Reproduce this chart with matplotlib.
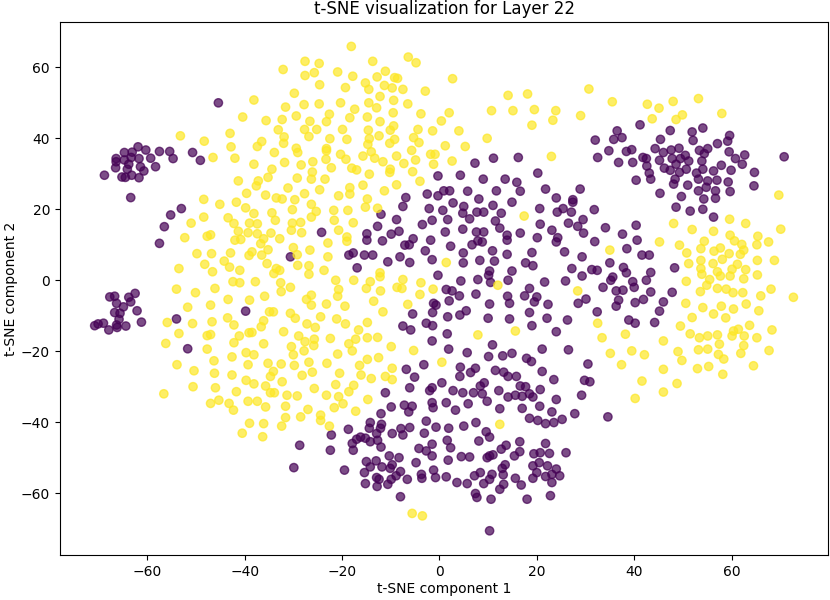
import numpy as np
import matplotlib
matplotlib.use('Agg')
import matplotlib.pyplot as plt

# points, label 0 (purple)
class0_pts = [
    (-45.4, 50.0), (-61.9, 37.6), (-64.7, 36.0), (-63.1, 36.1), (-60.3, 36.7), (-57.5, 36.3),
    (-55.4, 36.3), (-54.7, 34.3), (-50.7, 36.0), (-49.1, 33.8), (-66.4, 34.3), (-66.4, 33.4),
    (-66.5, 31.7), (-64.7, 33.9), (-63.3, 34.6), (-61.7, 34.3), (-59.3, 34.4), (-63.8, 32.7),
    (-61.4, 32.0), (-60.7, 30.8), (-58.3, 32.0), (-64.1, 31.3), (-68.8, 29.6), (-65.2, 29.1),
    (-64.5, 29.0), (-63.2, 29.6), (-61.7, 28.9), (-63.4, 23.3),
    (-0.3, 29.4), (-6.9, 23.3), (-2.5, 24.3), (-0.3, 23.8),
    (32.0, 39.5), (36.5, 42.1), (35.8, 39.7), (37.5, 40.2), (34.8, 36.5), (38.4, 36.3),
    (32.5, 34.6), (36.8, 33.2), (7.3, 33.0), (11.1, 34.4), (16.2, 34.6), (20.2, 30.2),
    (4.3, 29.6), (9.0, 28.5), (13.5, 28.5), (15.9, 27.6), (16.6, 25.1), (11.7, 25.2),
    (5.8, 25.1), (2.1, 25.2), (0.9, 25.2), (21.8, 25.7), (28.9, 25.7), (24.0, 23.2),
    (27.4, 22.7), (8.1, 22.9),
    (41.2, 43.8), (47.4, 42.2), (51.9, 41.8), (54.1, 42.9), (52.1, 39.4), (45.4, 39.7),
    (59.6, 40.8), (59.2, 39.2), (57.1, 38.5), (39.5, 36.8), (44.3, 37.1), (46.0, 36.0),
    (47.6, 36.7), (49.2, 37.2), (50.5, 35.2), (53.4, 36.6), (55.1, 37.1), (54.4, 35.7),
    (59.5, 36.2), (60.8, 34.3), (62.7, 35.3), (70.8, 34.8), (39.7, 33.2), (41.8, 34.6),
    (42.5, 34.3), (42.6, 32.2), (45.2, 33.8), (47.8, 34.3), (48.6, 32.7), (49.5, 34.3),
    (51.2, 33.6), (53.9, 33.6), (54.1, 31.3), (46.2, 31.6), (47.4, 31.0), (49.3, 30.4),
    (50.7, 31.3), (52.8, 30.2), (56.3, 30.8), (57.9, 32.4), (59.9, 31.0), (62.2, 32.7),
    (64.7, 30.4), (43.1, 30.2), (40.4, 28.2), (43.4, 28.5), (48.4, 28.5), (48.1, 27.1),
    (51.0, 26.8), (53.2, 28.5), (55.1, 28.0), (57.0, 28.2), (59.3, 27.7), (54.8, 26.2),
    (53.2, 25.2), (56.7, 25.2), (59.7, 25.0), (64.6, 26.6), (45.3, 24.5), (49.7, 23.6),
    (54.3, 22.9), (56.7, 23.1),
    (-53.0, 20.2), (-55.2, 18.4), (-56.5, 15.1), (-57.5, 10.4), (-67.7, -4.7), (-66.7, -4.5),
    (-62.5, -3.7), (-63.8, -4.8), (-63.4, -6.1), (-66.3, -6.5), (-64.9, -7.5), (-62.1, -8.6),
    (-66.7, -9.1), (-65.6, -9.3), (-65.8, -11.0), (-61.2, -11.8), (-70.8, -12.8), (-70.1, -12.3),
    (-69.0, -12.1), (-67.9, -14.0), (-66.3, -12.6), (-66.2, -13.3), (-64.4, -12.9), (-54.0, -10.9),
    (-51.7, -19.3), (-39.8, -8.7),
    (-7.5, 20.8), (-12.0, 18.6), (-8.8, 17.1), (-12.7, 15.2), (-14.9, 13.1), (-14.9, 11.3),
    (-11.7, 11.1), (-9.9, 13.0), (-8.3, 13.8), (-5.4, 11.7), (-7.1, 9.9), (-6.2, 10.0),
    (-3.5, 15.7), (-2.1, 20.2), (-1.5, 16.9), (-1.8, 11.3), (-2.9, 8.3), (-1.5, 5.8),
    (-24.2, 13.5), (-30.6, 6.6), (-18.6, 7.1), (-17.7, 7.7), (-15.4, 7.1), (-13.7, 7.1),
    (-10.6, 5.2), (-8.1, 6.6), (-6.1, 5.0), (-16.9, 3.5), (-0.3, 1.4), (-1.2, -6.5),
    (-0.7, -7.0), (-5.5, -9.5), (-1.4, -9.1), (-2.7, -12.1), (-1.4, -12.8), (-7.5, -12.9),
    (-5.9, -14.0), (-1.5, -17.1), (-3.2, -23.8), (-6.8, -25.1), (-5.1, -27.3),
    (2.8, 21.8), (5.0, 20.8), (11.0, 21.1), (14.9, 22.0), (20.6, 20.2), (24.2, 19.2),
    (25.4, 20.2), (27.4, 22.0), (27.1, 19.2), (31.8, 19.9), (0.7, 19.7), (1.7, 17.1),
    (4.8, 18.9), (7.7, 19.2), (9.1, 19.2), (12.7, 18.9), (11.5, 16.7), (6.2, 17.3),
    (20.7, 15.8), (26.5, 16.1), (29.5, 17.1), (28.4, 15.2), (34.1, 14.8), (1.2, 13.6),
    (4.8, 14.4), (7.6, 13.6), (9.1, 13.6), (12.4, 14.7), (13.9, 12.7), (13.9, 11.3),
    (16.6, 13.3), (20.1, 12.0), (23.1, 14.1), (24.3, 12.0), (24.0, 10.8), (29.6, 13.3),
    (31.9, 10.9), (37.6, 13.0), (2.3, 9.6), (6.7, 10.0), (7.9, 11.1), (8.8, 10.8),
    (10.9, 8.3), (13.9, 7.3), (19.0, 7.8), (25.7, 8.0), (29.3, 6.6), (38.5, 8.9),
    (4.9, 7.7), (4.9, 4.9), (8.3, 5.6), (11.3, 5.4), (17.7, 4.9), (19.2, 4.1),
    (10.3, 2.6), (10.1, 1.4), (14.9, 2.6), (27.2, 3.3), (31.3, 3.0), (32.4, 2.8),
    (29.3, 1.2), (35.0, 4.9), (35.6, 0.9), (35.2, 0.0), (37.8, 3.6), (38.4, 2.1),
    (4.4, -0.2), (7.9, 0.2), (10.5, -0.6), (14.1, 0.0), (21.6, -0.5), (25.9, -0.2),
    (1.4, -2.6), (2.6, -3.0), (4.1, -4.4), (7.5, -3.9), (14.0, -4.5), (17.5, -4.4),
    (18.5, -2.3), (20.0, -4.7), (19.5, -6.1), (22.3, -6.8), (14.4, -6.5), (10.3, -6.7),
    (2.0, -5.8), (33.6, -2.0), (36.3, -3.0), (37.7, -2.8), (36.8, -5.6), (36.3, -7.3),
    (30.1, -5.3), (28.5, -6.5), (32.4, -8.9), (5.5, -8.6), (4.2, -9.8), (1.7, -10.3),
    (10.0, -10.7), (14.4, -10.9), (18.5, -9.1), (22.1, -10.7), (26.3, -11.2), (19.0, -12.8),
    (24.0, -14.5), (38.9, -11.2), (1.6, -15.1), (10.9, -18.2), (21.1, -19.4), (26.5, -19.6),
    (1.9, -19.4), (5.7, -20.4), (10.1, -21.5), (13.0, -21.3), (14.9, -20.6), (17.9, -22.0),
    (18.9, -22.9), (30.5, -23.6), (4.3, -24.5), (7.4, -24.8), (6.4, -26.0), (11.5, -25.4),
    (13.2, -25.9), (14.1, -27.1), (21.1, -25.7), (15.8, -27.1), (4.2, -27.1),
    (48.6, 20.6), (51.5, 19.5), (54.1, 20.0), (56.3, 17.8), (40.4, 15.5), (40.6, 11.3),
    (41.6, 7.1), (43.1, 7.1), (48.3, 3.5), (43.4, 2.2), (42.5, 0.0), (39.7, -0.4),
    (40.0, -2.0), (43.4, -3.3), (47.8, -3.4), (41.9, -5.4), (40.2, -6.3), (46.0, -6.1),
    (45.2, -8.7), (44.2, -11.9), (40.2, -12.1),
    (-6.1, -30.3), (-2.0, -31.1), (-1.5, -30.3), (-11.1, -31.7), (-9.9, -35.7), (-7.2, -35.2),
    (-5.6, -35.5), (-6.3, -37.1), (-1.5, -34.5), (-1.3, -35.9), (-12.0, -37.6), (-14.2, -40.1),
    (-14.4, -41.7), (-11.9, -40.6), (-12.1, -41.7), (-12.9, -43.2), (-9.7, -43.2), (-7.9, -41.8),
    (-6.1, -41.5), (-7.5, -43.6), (-2.7, -39.7), (-0.7, -41.4), (-3.1, -43.1), (-18.7, -42.0),
    (-22.2, -43.6), (-16.2, -44.2), (-17.0, -44.8), (-17.9, -46.0), (-15.2, -44.5), (-14.2, -45.5),
    (-12.7, -45.1), (-12.0, -47.0), (-17.7, -47.9), (-22.4, -47.9), (-28.7, -46.5), (-29.9, -52.8),
    (-19.5, -53.5), (-15.0, -51.1), (-14.2, -52.6), (-13.0, -50.9), (-11.8, -52.6), (-10.3, -49.5),
    (-8.3, -50.0), (-9.7, -52.0), (-10.1, -53.0), (-8.0, -53.9), (-8.9, -55.1), (-4.8, -51.4),
    (-4.2, -47.4), (-2.7, -48.1), (-1.5, -46.2), (-1.5, -49.5), (-1.2, -53.5), (-0.8, -55.6),
    (-3.7, -54.7), (-3.6, -55.8), (-6.6, -56.1), (-15.4, -54.2), (-12.9, -55.6), (-12.4, -56.1),
    (-15.2, -57.3), (-12.8, -58.1), (-10.6, -57.5), (-9.9, -56.1), (-8.0, -61.0),
    (0.5, -28.9), (2.8, -31.1), (4.8, -31.7), (7.0, -31.7), (8.4, -29.8), (9.2, -28.9),
    (8.8, -32.0), (9.8, -34.1), (12.2, -31.1), (16.6, -29.8), (17.7, -30.0), (14.1, -32.9),
    (15.6, -32.4), (17.0, -32.7), (18.5, -32.0), (19.2, -32.9), (20.7, -30.8), (23.5, -28.0),
    (24.0, -33.6), (29.8, -28.2), (30.9, -28.6), (29.2, -32.4), (1.4, -34.5), (3.3, -36.6),
    (5.9, -34.8), (12.4, -36.2), (17.0, -36.1), (20.6, -35.5), (23.1, -37.1), (27.8, -37.6),
    (34.6, -38.5), (18.5, -38.9), (20.2, -39.5), (21.8, -40.4), (23.5, -40.1), (25.2, -39.2),
    (1.9, -41.7), (5.0, -41.1), (7.5, -40.1), (9.6, -42.7), (10.3, -44.2), (8.1, -45.3),
    (1.6, -45.1), (2.3, -47.2), (16.5, -45.5), (13.7, -46.5), (12.7, -47.6), (11.0, -49.2),
    (9.8, -50.0), (10.3, -49.5), (16.5, -48.3), (15.4, -49.5), (19.4, -48.9), (20.7, -48.6),
    (21.8, -46.0), (22.6, -48.8), (26.0, -48.6), (4.5, -49.7), (6.2, -49.8), (1.8, -50.7),
    (19.2, -52.3), (20.5, -51.4), (22.2, -52.3), (24.0, -53.2), (20.0, -54.2), (21.8, -55.3),
    (23.1, -54.7), (24.7, -55.1), (13.5, -52.0), (12.9, -53.0), (13.1, -54.8), (10.8, -54.7),
    (8.4, -54.2), (7.2, -55.1), (1.4, -55.4), (3.6, -57.0), (5.7, -57.3), (9.1, -57.3),
    (10.3, -56.1), (13.2, -57.5), (15.6, -55.8), (16.8, -57.7), (19.2, -55.8), (23.1, -57.0),
    (12.4, -58.9), (7.4, -60.1), (7.7, -61.2), (10.6, -61.7), (18.0, -61.7), (22.8, -60.7),
    (10.3, -70.6),
]

# points, label 1 (yellow)
class1_pts = [
    (-40.4, 46.0), (-53.2, 40.7), (-48.3, 39.2), (-43.0, 41.4), (-42.8, 37.6), (-46.5, 34.6),
    (-42.0, 34.4), (-41.3, 28.0), (-39.6, 24.5), (-48.4, 22.8),
    (-18.1, 65.9), (-32.1, 59.4), (-27.6, 61.7), (-24.7, 61.1), (-27.6, 57.7), (-25.7, 58.5),
    (-24.6, 55.1), (-20.9, 58.7), (-17.8, 57.5), (-19.3, 54.3), (-13.7, 61.7), (-12.8, 57.3),
    (-11.1, 58.9), (-15.2, 55.6), (-14.5, 53.8), (-11.3, 54.9), (-9.2, 57.1), (-8.6, 56.9),
    (-9.7, 54.2), (-7.5, 53.8), (-6.4, 62.9), (-4.8, 61.3), (-2.9, 53.3), (-38.1, 50.8),
    (-29.8, 52.7), (-31.6, 48.8), (-27.8, 49.5), (-24.7, 49.7), (-20.3, 50.0), (-22.6, 46.8),
    (-17.4, 48.2), (-14.5, 50.0), (-12.9, 48.6), (-12.2, 51.8), (-9.4, 50.7), (-6.5, 49.7),
    (-9.5, 47.2), (-3.8, 46.9), (-35.6, 45.0), (-32.3, 45.3), (-29.4, 46.3), (-26.6, 44.8),
    (-23.2, 44.7), (-18.4, 45.8), (-14.8, 46.0), (-12.2, 44.7), (-9.4, 43.5), (-10.1, 42.3),
    (-33.1, 42.4), (-27.7, 42.5), (-25.2, 42.5), (-19.9, 42.5), (-14.6, 42.3), (-4.4, 42.5),
    (-1.4, 42.1), (-31.9, 40.4), (-26.8, 40.5), (-22.5, 39.9), (-19.0, 39.7), (-14.4, 39.9),
    (-12.4, 40.7), (-9.2, 39.7), (-5.3, 40.2), (-36.5, 39.1), (-37.4, 37.7), (-32.0, 38.6),
    (-14.7, 38.3), (-10.2, 38.6), (-4.2, 38.8), (-29.4, 37.2), (-29.1, 36.0), (-23.2, 37.1),
    (-23.2, 36.5), (-33.9, 36.0), (-20.3, 35.5), (-19.2, 34.1), (-15.7, 35.0), (-14.0, 36.2),
    (-13.3, 34.4), (-11.6, 33.4), (-8.8, 35.0), (-5.7, 36.6), (-1.8, 35.5), (-0.9, 35.5),
    (-38.1, 32.7), (-31.8, 33.2), (-28.4, 32.5), (-26.0, 33.4), (-23.3, 34.1), (-22.2, 31.7),
    (-18.0, 31.6), (-17.0, 31.1), (-7.3, 32.9), (-4.9, 33.9), (-1.2, 32.7), (-34.4, 31.3),
    (-26.1, 30.5), (-10.1, 31.3), (-10.2, 30.4), (-5.5, 30.6), (-35.2, 29.0), (-29.2, 28.8),
    (-26.3, 28.5), (-23.5, 28.5), (-14.4, 29.9), (-37.2, 28.0), (-37.6, 26.6), (-4.0, 27.9),
    (-31.1, 26.0), (-24.6, 25.5), (-18.4, 26.1), (-15.7, 26.8), (-8.8, 26.9), (-18.4, 24.3),
    (-11.3, 25.2), (-35.7, 24.0), (-33.5, 23.2), (-32.3, 22.9), (-29.7, 22.7), (-27.7, 24.4),
    (-20.7, 23.8), (-14.8, 22.9),
    (2.7, 56.8), (14.1, 52.1), (18.1, 52.5), (30.7, 53.9), (35.5, 50.3), (2.0, 47.2),
    (10.7, 47.8), (15.1, 47.8), (19.5, 48.1), (23.9, 47.8), (23.3, 45.1), (19.0, 43.7),
    (29.0, 46.4), (0.4, 44.9), (4.0, 42.1), (9.8, 40.0), (1.2, 37.9), (5.3, 37.7),
    (2.6, 33.6), (23.0, 34.9),
    (42.7, 49.6), (45.1, 48.5), (48.0, 50.4), (53.2, 51.2), (43.7, 45.5), (48.6, 45.3),
    (49.9, 46.6), (58.0, 47.0), (69.7, 24.0),
    (-45.1, 21.4), (-41.7, 22.0), (-39.8, 20.4), (-51.0, 16.1), (-48.4, 17.8), (-43.4, 17.6),
    (-42.2, 16.0), (-39.0, 16.1), (-52.3, 12.0), (-47.7, 12.4), (-47.0, 12.8), (-41.3, 13.8),
    (-39.3, 13.4), (-42.0, 11.3), (-40.8, 11.5), (-49.8, 7.5), (-46.8, 7.5), (-42.9, 7.7),
    (-39.1, 7.0), (-48.2, 4.5), (-44.2, 5.4), (-43.1, 3.7), (-41.0, 2.8), (-53.5, 3.3),
    (-46.6, 2.4), (-42.4, -0.4), (-41.0, -0.7), (-54.0, -2.5), (-50.1, -3.5), (-46.1, -2.3),
    (-43.4, -5.4), (-39.0, -5.6), (-51.7, -7.6), (-47.0, -7.0), (-55.9, -11.9), (-50.7, -12.2),
    (-46.7, -11.7), (-43.5, -10.6), (-42.2, -12.6), (-53.5, -15.0), (-47.7, -15.6), (-47.0, -15.3),
    (-41.1, -15.7), (-39.1, -14.8), (-56.2, -17.8), (-47.7, -19.4), (-42.2, -17.6), (-39.7, -20.4),
    (-46.3, -22.7), (-42.6, -21.6), (-53.9, -23.8), (-50.4, -25.5), (-46.2, -26.2), (-42.6, -26.7),
    (-39.3, -23.8),
    (-38.1, 18.8), (-37.4, 15.9), (-34.4, 19.0), (-33.7, 16.9), (-30.2, 19.9), (-26.3, 21.4),
    (-25.3, 19.4), (-26.3, 17.8), (-21.7, 19.7), (-21.6, 16.9), (-18.8, 19.7), (-17.7, 16.2),
    (-15.2, 20.6), (-12.7, 20.3), (-30.2, 16.1), (-28.5, 16.3), (-30.4, 14.1), (-28.3, 13.4),
    (-20.7, 14.1), (-37.4, 13.1), (-34.6, 13.3), (-32.8, 11.7), (-36.1, 11.7), (-36.7, 10.3),
    (-19.0, 12.2), (-19.0, 11.0), (-22.9, 10.5), (-30.0, 9.2), (-26.6, 8.5), (-35.2, 8.6),
    (-29.2, 7.2), (-36.5, 7.1), (-22.9, 6.6), (-38.5, 8.0), (-35.4, 4.7), (-29.1, 4.2),
    (-26.8, 4.1), (-33.5, 3.3), (-32.8, 2.8), (-34.0, 1.9), (-26.8, 1.7), (-23.7, 2.8),
    (-12.2, 2.1), (-37.8, -0.4), (-32.6, -0.7), (-32.5, -3.2), (-30.6, -2.0), (-21.3, 0.0),
    (-17.6, 0.0), (-14.2, -0.4), (-12.2, 1.0), (-20.7, -2.6), (-20.9, -4.5), (-15.0, -2.3),
    (-12.1, -3.0), (-8.7, -2.0), (-7.7, -2.3), (-7.5, 0.2), (-3.8, -0.7), (-4.0, -4.0),
    (-1.3, -2.5), (-35.9, -4.5), (-27.3, -5.4), (-26.3, -4.2), (-26.3, -7.0), (-23.2, -6.7),
    (-19.4, -7.3), (-13.5, -5.9), (-11.6, -8.9), (-6.5, -6.8), (-34.9, -8.9), (-34.1, -8.9),
    (-30.6, -9.3), (-29.6, -10.7), (-24.4, -10.3), (-21.1, -10.9), (-19.3, -12.3), (-14.8, -11.9),
    (-36.1, -11.4), (-36.6, -13.1), (-38.5, -14.7), (-32.0, -14.5), (-27.2, -12.3), (-25.5, -13.3),
    (-16.6, -14.0), (-28.9, -15.7), (-27.6, -17.3), (-25.7, -16.6), (-25.8, -18.4), (-22.4, -16.4),
    (-17.2, -16.6), (-14.8, -16.2), (-12.7, -16.1), (-18.6, -17.9), (-17.9, -19.9), (-36.1, -17.9),
    (-30.4, -18.7), (-30.0, -21.0), (-27.8, -19.9), (-20.9, -20.8), (-14.8, -22.3), (-12.5, -21.8),
    (-9.9, -18.7), (-5.3, -19.8), (-38.1, -21.0), (-35.2, -23.4), (-32.5, -23.6), (-29.8, -24.0),
    (-26.8, -23.1), (-23.1, -23.4), (-20.5, -26.2), (-16.4, -24.0), (-9.7, -24.8), (-34.1, -25.7),
    (-34.7, -27.1), (-26.1, -25.9), (-28.2, -26.8), (-16.1, -26.7), (-11.1, -27.1),
    (17.4, 18.1), (1.4, 5.0), (12.0, -1.4), (28.4, -3.0), (35.0, 8.5), (7.9, -15.4),
    (15.6, -14.3), (32.5, -12.1), (33.4, -16.2), (38.2, -15.2), (35.1, -20.6), (37.4, -23.8),
    (0.5, -23.1),
    (59.6, 17.2), (62.9, 16.0), (48.1, 16.0), (51.9, 14.3), (56.3, 13.8), (70.1, 14.4),
    (59.7, 12.7), (60.6, 11.1), (65.4, 12.4), (65.2, 10.0), (67.6, 10.8), (45.2, 10.8),
    (49.3, 9.9), (54.4, 11.0), (53.7, 8.9), (62.1, 10.1), (62.5, 8.5), (57.7, 9.1),
    (56.4, 8.2), (59.5, 7.5), (61.8, 7.3), (50.8, 7.7), (58.1, 5.9), (53.7, 5.6),
    (56.2, 4.7), (61.2, 4.5), (65.3, 5.6), (68.8, 5.6), (51.2, 4.7), (53.7, 3.3),
    (60.1, 3.1), (62.9, 3.0), (57.1, 2.4), (57.7, 1.2), (53.9, 1.7), (55.5, 0.2),
    (59.7, 1.2), (62.5, 0.4), (65.3, 1.5), (50.7, -0.3), (54.9, -1.4), (57.1, -2.3),
    (58.9, -2.5), (53.6, -3.2), (60.3, -3.5), (62.3, -3.5), (68.1, -2.5), (66.0, -4.4),
    (72.7, -4.8), (50.6, -6.5), (54.1, -7.7), (57.9, -7.3), (63.0, -6.7), (60.4, -8.1),
    (65.6, -8.6), (56.3, -9.5), (58.8, -10.6), (51.9, -10.5), (49.5, -12.9), (51.5, -15.1),
    (53.4, -16.2), (55.1, -15.7), (57.1, -15.4), (60.1, -15.7), (60.4, -14.3), (61.4, -13.8),
    (62.6, -15.7), (63.7, -12.7), (65.2, -16.2), (68.3, -14.0), (57.5, -18.0), (62.5, -18.4),
    (46.0, -17.1), (53.2, -19.6), (55.1, -19.4), (49.0, -20.1), (57.3, -20.9), (58.4, -22.2),
    (61.9, -20.6), (67.7, -19.8), (39.5, -19.9), (42.1, -21.0), (49.8, -22.6), (53.0, -24.9),
    (55.3, -24.3), (64.5, -24.1), (46.0, -25.1), (58.2, -26.5),
    (-56.6, -32.0), (-50.6, -30.0), (-46.0, -30.3), (-41.7, -31.4), (-39.7, -28.2), (-47.0, -34.7),
    (-45.3, -33.8), (-43.2, -34.7), (-42.3, -36.6), (-39.3, -34.1), (-39.0, -40.3), (-40.5, -43.1),
    (-38.1, -29.2), (-35.7, -29.8), (-34.7, -31.7), (-33.9, -31.7), (-32.3, -28.6), (-31.3, -32.4),
    (-29.2, -32.6), (-25.7, -30.5), (-23.2, -32.4), (-21.3, -29.4), (-20.7, -32.8), (-18.6, -31.4),
    (-17.6, -29.6), (-19.8, -34.8), (-21.6, -35.9), (-14.7, -33.6), (-14.0, -27.7), (-9.7, -28.0),
    (-37.4, -34.1), (-35.7, -35.7), (-31.6, -35.5), (-31.6, -38.7), (-32.4, -41.1), (-28.5, -38.5),
    (-27.0, -36.4), (-24.4, -38.0), (-24.4, -39.5), (-22.6, -41.1), (-17.2, -36.9), (-36.1, -40.4),
    (-36.3, -44.1), (-5.6, -65.7), (-3.5, -66.4),
    (12.4, -40.6), (41.6, -28.4), (40.2, -33.3), (46.0, -31.5), (48.8, -29.1),
]

title = 't-SNE visualization for Layer 22'
xlabel = 't-SNE component 1'
ylabel = 't-SNE component 2'

pts = np.array(class0_pts + class1_pts)
labels = np.array([0] * len(class0_pts) + [1] * len(class1_pts))

fig = plt.figure(figsize=(8.3, 6), dpi=100)
ax = fig.add_axes([0.072, 0.075, 0.926, 0.888])
ax.scatter(pts[:, 0], pts[:, 1], c=labels, cmap='viridis', alpha=0.7)
ax.set_title(title)
ax.set_xlabel(xlabel, labelpad=2)
ax.set_ylabel(ylabel, labelpad=2)
fig.savefig('out.png', dpi=100)
